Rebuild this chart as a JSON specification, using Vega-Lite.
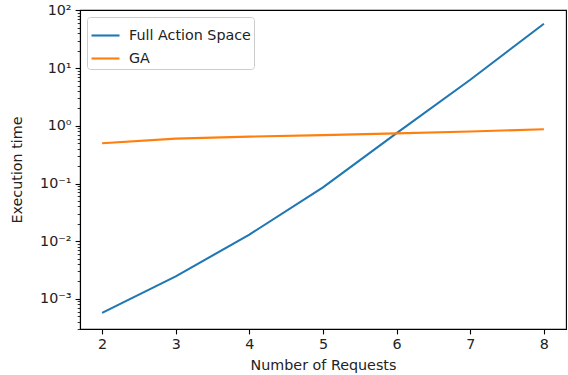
{
  "$schema": "https://vega.github.io/schema/vega-lite/v6.json",
  "width": 486,
  "height": 319,
  "autosize": {"type": "none"},
  "padding": {"left": 80, "top": 10, "right": 2, "bottom": 46},
  "background": "white",
  "config": {
    "font": "DejaVu Sans",
    "view": {"stroke": "black", "strokeWidth": 1.1},
    "axis": {
      "grid": false,
      "domainColor": "black",
      "domainWidth": 1.1,
      "tickColor": "black",
      "tickWidth": 1.1,
      "labelFont": "DejaVu Sans",
      "labelFontSize": 14.3,
      "labelColor": "#222",
      "titleFont": "DejaVu Sans",
      "titleFontSize": 14.3,
      "titleFontWeight": "normal",
      "titleColor": "#222"
    }
  },
  "data": {
    "values": [
      {"n": 2, "series": "Full Action Space", "t": 0.00057},
      {"n": 3, "series": "Full Action Space", "t": 0.00245},
      {"n": 4, "series": "Full Action Space", "t": 0.013},
      {"n": 5, "series": "Full Action Space", "t": 0.086},
      {"n": 6, "series": "Full Action Space", "t": 0.75},
      {"n": 7, "series": "Full Action Space", "t": 6.3},
      {"n": 8, "series": "Full Action Space", "t": 59},
      {"n": 2, "series": "GA", "t": 0.5},
      {"n": 3, "series": "GA", "t": 0.6},
      {"n": 4, "series": "GA", "t": 0.65},
      {"n": 5, "series": "GA", "t": 0.69},
      {"n": 6, "series": "GA", "t": 0.74},
      {"n": 7, "series": "GA", "t": 0.8},
      {"n": 8, "series": "GA", "t": 0.87}
    ]
  },
  "mark": {"type": "line", "strokeWidth": 2.1, "clip": true},
  "encoding": {
    "x": {
      "field": "n",
      "type": "quantitative",
      "scale": {"domain": [1.7, 8.3], "nice": false, "zero": false},
      "axis": {
        "values": [2, 3, 4, 5, 6, 7, 8],
        "format": "d",
        "title": "Number of Requests",
        "tickSize": 4.9,
        "labelPadding": 4,
        "titlePadding": 6
      }
    },
    "y": {
      "field": "t",
      "type": "quantitative",
      "scale": {"type": "log", "domain": [0.0003, 102], "nice": false},
      "axis": {
        "title": "Execution time",
        "titlePadding": 15,
        "values": [0.0003, 0.0004, 0.0005, 0.0006, 0.0007, 0.0008, 0.0009,
                   0.001, 0.002, 0.003, 0.004, 0.005, 0.006, 0.007, 0.008, 0.009,
                   0.01, 0.02, 0.03, 0.04, 0.05, 0.06, 0.07, 0.08, 0.09,
                   0.1, 0.2, 0.3, 0.4, 0.5, 0.6, 0.7, 0.8, 0.9,
                   1, 2, 3, 4, 5, 6, 7, 8, 9,
                   10, 20, 30, 40, 50, 60, 70, 80, 90, 100],
        "labelExpr": "abs(log(datum.value)/LN10 - round(log(datum.value)/LN10)) > 0.001 ? '' : (round(log(datum.value)/LN10) == 2 ? '10²' : round(log(datum.value)/LN10) == 1 ? '10¹' : round(log(datum.value)/LN10) == 0 ? '10⁰' : round(log(datum.value)/LN10) == -1 ? '10⁻¹' : round(log(datum.value)/LN10) == -2 ? '10⁻²' : '10⁻³')",
        "tickSize": {
          "condition": {"test": "abs(log(datum.value)/LN10 - round(log(datum.value)/LN10)) < 0.001", "value": 4.9},
          "value": 2.8
        },
        "tickWidth": {
          "condition": {"test": "abs(log(datum.value)/LN10 - round(log(datum.value)/LN10)) < 0.001", "value": 1.1},
          "value": 0.8
        },
        "labelPadding": 4
      }
    },
    "color": {
      "field": "series",
      "type": "nominal",
      "scale": {"domain": ["Full Action Space", "GA"], "range": ["#1f77b4", "#ff7f0e"]},
      "legend": {
        "title": null,
        "orient": "top-left",
        "offset": 7,
        "symbolType": "stroke",
        "symbolSize": 784,
        "symbolStrokeWidth": 2.1,
        "labelFontSize": 14.3,
        "labelFont": "DejaVu Sans",
        "labelColor": "#222",
        "fillColor": "white",
        "strokeColor": "#cccccc",
        "cornerRadius": 3,
        "padding": 3,
        "rowPadding": -5,
        "labelOffset": 8
      }
    }
  }
}
